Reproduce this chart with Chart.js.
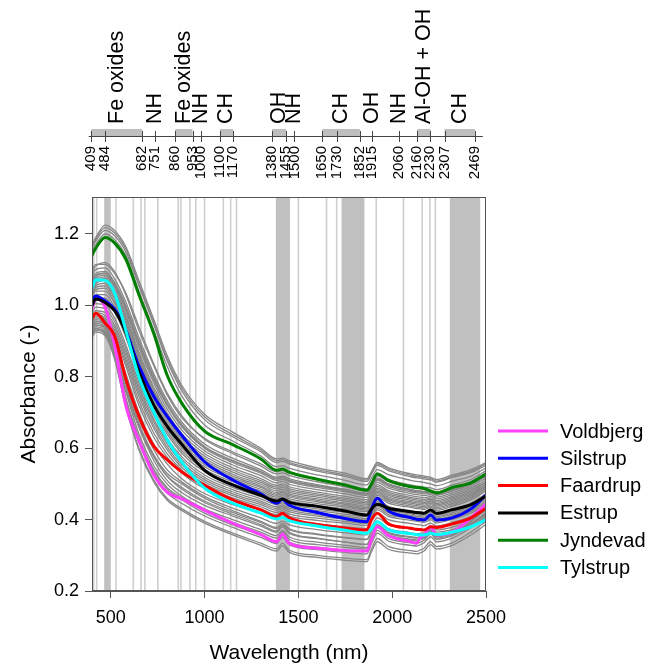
<!DOCTYPE html>
<html><head><meta charset="utf-8">
<script src="https://cdn.jsdelivr.net/npm/chart.js@4/dist/chart.umd.min.js"></script>
<style>html,body{margin:0;padding:0;background:#fff}#wrap{width:651px;height:667px}</style>
</head><body><div id="wrap"><canvas id="c" width="651" height="667"></canvas></div>
<script>
// ---------- data ----------
const WAVELENGTHS = [400,420,470,520,580,650,730,800,880,1000,1150,1300,1385,1415,1450,1600,1750,1865,1890,1920,1980,2100,2130,2150,2170,2205,2235,2320,2420,2500];

const SITE_NAMES  = ['Voldbjerg','Silstrup','Faardrup','Estrup','Jyndevad','Tylstrup'];
const SITE_COLORS = ['#ff40ff','#0000ff','#ff0000','#000000','#008000','#00ffff'];

const VOLDBJERG = [0.99,1.02,0.995,0.89,0.72,0.622,0.525,0.477,0.458,0.426,0.39,0.358,0.338,0.36,0.334,0.32,0.313,0.312,0.345,0.38,0.355,0.338,0.334,0.35,0.356,0.38,0.357,0.365,0.405,0.444];
const SILSTRUP  = [1.015,1.026,1.012,0.99,0.93,0.83,0.745,0.69,0.635,0.562,0.511,0.472,0.446,0.456,0.441,0.42,0.403,0.394,0.43,0.46,0.425,0.405,0.401,0.4,0.399,0.413,0.399,0.405,0.43,0.469];
const FAARDRUP  = [0.964,0.978,0.95,0.915,0.795,0.69,0.605,0.568,0.533,0.496,0.455,0.427,0.408,0.418,0.405,0.386,0.376,0.371,0.40,0.418,0.388,0.376,0.373,0.372,0.371,0.38,0.378,0.388,0.405,0.432];
const ESTRUP    = [1.0,1.018,1.008,0.985,0.925,0.815,0.72,0.662,0.61,0.538,0.497,0.468,0.452,0.458,0.449,0.437,0.424,0.413,0.43,0.443,0.432,0.422,0.42,0.419,0.418,0.427,0.418,0.428,0.442,0.466];
const JYNDEVAD  = [1.14,1.16,1.19,1.175,1.13,1.03,0.92,0.805,0.725,0.648,0.61,0.57,0.538,0.542,0.533,0.513,0.497,0.482,0.50,0.528,0.51,0.492,0.49,0.489,0.487,0.48,0.475,0.49,0.503,0.528];
const TYLSTRUP  = [1.048,1.072,1.07,1.035,0.93,0.80,0.70,0.625,0.56,0.488,0.446,0.418,0.402,0.406,0.397,0.382,0.37,0.362,0.375,0.394,0.372,0.36,0.358,0.357,0.357,0.362,0.358,0.365,0.38,0.40];

// all other soil spectra (grey)
const OTHER_SPECTRA = [
 [1.17,1.19,1.225,1.21,1.165,1.07,0.96,0.86,0.775,0.695,0.645,0.6,0.57,0.572,0.565,0.545,0.53,0.515,0.535,0.56,0.545,0.528,0.525,0.524,0.522,0.518,0.512,0.525,0.54,0.56],
 [1.165,1.185,1.218,1.203,1.158,1.062,0.952,0.852,0.768,0.688,0.638,0.595,0.565,0.568,0.56,0.54,0.525,0.511,0.531,0.556,0.541,0.524,0.521,0.52,0.518,0.515,0.508,0.521,0.536,0.556],
 [1.16,1.18,1.21,1.195,1.15,1.055,0.945,0.845,0.76,0.68,0.632,0.59,0.56,0.563,0.556,0.536,0.521,0.507,0.527,0.552,0.537,0.52,0.517,0.516,0.514,0.511,0.505,0.518,0.532,0.552],
 [1.15,1.17,1.2,1.185,1.14,1.04,0.93,0.83,0.745,0.665,0.62,0.578,0.548,0.551,0.544,0.525,0.51,0.497,0.516,0.54,0.526,0.51,0.507,0.506,0.504,0.5,0.495,0.508,0.522,0.545],
 [1.1,1.115,1.115,1.09,1.035,0.94,0.835,0.755,0.69,0.625,0.585,0.55,0.528,0.531,0.524,0.506,0.492,0.48,0.5,0.522,0.506,0.49,0.487,0.486,0.484,0.482,0.477,0.49,0.507,0.53],
 [1.09,1.11,1.12,1.095,1.03,0.93,0.83,0.75,0.685,0.628,0.59,0.556,0.534,0.537,0.53,0.512,0.498,0.486,0.506,0.53,0.513,0.497,0.494,0.493,0.491,0.489,0.484,0.497,0.513,0.537],
 [1.08,1.1,1.105,1.075,1.01,0.91,0.808,0.735,0.672,0.612,0.572,0.54,0.519,0.522,0.515,0.498,0.485,0.474,0.494,0.516,0.5,0.484,0.481,0.48,0.478,0.479,0.473,0.486,0.503,0.526],
 [1.07,1.09,1.095,1.065,1.0,0.9,0.8,0.728,0.665,0.605,0.566,0.535,0.515,0.518,0.51,0.494,0.481,0.471,0.491,0.512,0.497,0.481,0.478,0.477,0.475,0.477,0.47,0.483,0.5,0.523],
 [1.065,1.085,1.09,1.06,0.995,0.895,0.795,0.722,0.66,0.602,0.564,0.534,0.514,0.518,0.51,0.495,0.483,0.473,0.493,0.515,0.499,0.484,0.481,0.48,0.478,0.48,0.474,0.486,0.504,0.527],
 [1.06,1.08,1.09,1.06,0.99,0.89,0.79,0.72,0.66,0.6,0.56,0.53,0.51,0.513,0.506,0.49,0.478,0.468,0.488,0.51,0.493,0.478,0.475,0.474,0.472,0.474,0.468,0.48,0.498,0.52],
 [1.055,1.075,1.085,1.055,0.985,0.882,0.782,0.71,0.65,0.593,0.553,0.523,0.503,0.507,0.499,0.484,0.472,0.462,0.482,0.504,0.488,0.473,0.47,0.469,0.467,0.47,0.463,0.475,0.493,0.516],
 [1.05,1.07,1.08,1.05,0.975,0.87,0.77,0.7,0.64,0.585,0.545,0.515,0.496,0.5,0.492,0.477,0.465,0.456,0.476,0.498,0.481,0.467,0.464,0.463,0.461,0.465,0.458,0.47,0.488,0.51],
 [1.045,1.065,1.075,1.042,0.968,0.862,0.762,0.692,0.632,0.578,0.539,0.509,0.491,0.495,0.487,0.472,0.46,0.451,0.471,0.493,0.476,0.462,0.459,0.458,0.456,0.461,0.453,0.465,0.483,0.506],
 [1.04,1.06,1.07,1.035,0.96,0.855,0.755,0.685,0.625,0.572,0.533,0.504,0.486,0.49,0.482,0.468,0.456,0.447,0.467,0.488,0.472,0.458,0.455,0.454,0.452,0.457,0.449,0.461,0.479,0.503],
 [1.035,1.055,1.062,1.028,0.952,0.848,0.748,0.678,0.618,0.566,0.527,0.499,0.481,0.485,0.477,0.463,0.452,0.443,0.463,0.484,0.468,0.454,0.451,0.45,0.448,0.453,0.445,0.457,0.475,0.499],
 [1.03,1.05,1.055,1.02,0.945,0.84,0.74,0.67,0.612,0.56,0.522,0.494,0.476,0.48,0.472,0.458,0.447,0.438,0.458,0.48,0.463,0.45,0.447,0.446,0.444,0.45,0.441,0.453,0.471,0.495],
 [1.025,1.045,1.048,1.012,0.938,0.832,0.732,0.662,0.606,0.554,0.517,0.49,0.472,0.476,0.468,0.454,0.443,0.434,0.454,0.476,0.459,0.446,0.443,0.442,0.44,0.446,0.438,0.449,0.467,0.492],
 [1.02,1.04,1.04,1.005,0.93,0.825,0.725,0.655,0.6,0.548,0.512,0.485,0.468,0.472,0.464,0.45,0.439,0.43,0.45,0.472,0.455,0.442,0.439,0.438,0.436,0.442,0.434,0.445,0.463,0.488],
 [1.01,1.03,1.03,0.995,0.92,0.815,0.715,0.648,0.592,0.541,0.506,0.48,0.463,0.467,0.459,0.445,0.435,0.426,0.446,0.468,0.451,0.438,0.435,0.434,0.432,0.438,0.43,0.441,0.459,0.484],
 [1.0,1.02,1.02,0.985,0.91,0.805,0.705,0.64,0.585,0.534,0.5,0.475,0.458,0.462,0.454,0.44,0.43,0.422,0.442,0.463,0.446,0.434,0.431,0.43,0.428,0.434,0.426,0.437,0.455,0.48],
 [0.99,1.005,1.0,0.965,0.89,0.785,0.69,0.628,0.575,0.525,0.49,0.464,0.448,0.453,0.444,0.43,0.42,0.413,0.433,0.455,0.437,0.425,0.422,0.421,0.419,0.425,0.418,0.428,0.446,0.472],
 [0.98,0.995,0.99,0.955,0.88,0.775,0.68,0.62,0.568,0.518,0.484,0.458,0.442,0.447,0.438,0.425,0.415,0.408,0.428,0.45,0.432,0.42,0.417,0.416,0.414,0.42,0.413,0.423,0.441,0.467],
 [0.97,0.985,0.98,0.945,0.87,0.765,0.672,0.612,0.56,0.512,0.478,0.452,0.436,0.441,0.432,0.419,0.41,0.403,0.423,0.445,0.427,0.416,0.413,0.412,0.41,0.416,0.409,0.419,0.437,0.462],
 [0.965,0.98,0.972,0.938,0.86,0.755,0.663,0.604,0.553,0.506,0.472,0.447,0.431,0.436,0.427,0.414,0.405,0.399,0.419,0.441,0.423,0.412,0.409,0.408,0.406,0.412,0.405,0.415,0.432,0.457],
 [0.96,0.975,0.965,0.93,0.85,0.745,0.655,0.596,0.546,0.5,0.467,0.442,0.426,0.431,0.422,0.41,0.401,0.395,0.415,0.437,0.419,0.408,0.405,0.404,0.402,0.408,0.401,0.411,0.428,0.452],
 [0.955,0.97,0.96,0.922,0.84,0.732,0.642,0.585,0.538,0.493,0.461,0.436,0.42,0.425,0.416,0.404,0.395,0.389,0.41,0.432,0.414,0.403,0.4,0.399,0.397,0.403,0.396,0.406,0.423,0.448],
 [0.95,0.965,0.955,0.915,0.83,0.72,0.63,0.575,0.53,0.487,0.455,0.43,0.414,0.42,0.41,0.398,0.39,0.384,0.405,0.427,0.409,0.398,0.395,0.394,0.392,0.399,0.391,0.401,0.418,0.443],
 [0.945,0.96,0.95,0.895,0.79,0.68,0.595,0.54,0.505,0.465,0.432,0.405,0.389,0.396,0.386,0.372,0.363,0.357,0.38,0.405,0.385,0.373,0.37,0.371,0.371,0.38,0.371,0.379,0.398,0.425],
 [0.94,0.955,0.945,0.9,0.81,0.7,0.61,0.556,0.514,0.473,0.442,0.418,0.403,0.409,0.399,0.388,0.38,0.375,0.396,0.418,0.4,0.389,0.386,0.385,0.383,0.39,0.382,0.392,0.409,0.434],
 [0.94,0.955,0.95,0.9,0.79,0.67,0.58,0.522,0.485,0.448,0.415,0.386,0.368,0.385,0.365,0.348,0.337,0.33,0.357,0.385,0.362,0.35,0.348,0.35,0.352,0.365,0.353,0.36,0.38,0.405],
 [0.935,0.95,0.94,0.88,0.77,0.66,0.575,0.522,0.49,0.452,0.42,0.392,0.375,0.384,0.372,0.358,0.349,0.344,0.368,0.393,0.372,0.36,0.357,0.358,0.359,0.37,0.36,0.368,0.388,0.417],
 [0.93,0.945,0.94,0.89,0.78,0.66,0.565,0.51,0.475,0.44,0.41,0.382,0.365,0.38,0.362,0.347,0.337,0.331,0.358,0.386,0.364,0.352,0.35,0.352,0.353,0.366,0.355,0.363,0.385,0.415],
 [0.93,0.945,0.935,0.87,0.74,0.63,0.54,0.49,0.46,0.425,0.392,0.365,0.348,0.366,0.345,0.33,0.322,0.318,0.348,0.378,0.355,0.342,0.34,0.345,0.35,0.37,0.352,0.362,0.395,0.43],
 [0.925,0.94,0.93,0.88,0.76,0.64,0.55,0.5,0.465,0.43,0.4,0.372,0.355,0.37,0.352,0.337,0.328,0.322,0.35,0.378,0.357,0.345,0.343,0.345,0.347,0.362,0.348,0.357,0.38,0.41],
 [0.92,0.935,0.92,0.86,0.76,0.66,0.58,0.53,0.5,0.46,0.425,0.395,0.378,0.39,0.375,0.36,0.35,0.345,0.37,0.395,0.375,0.363,0.36,0.362,0.363,0.375,0.365,0.372,0.39,0.42],
 [0.92,0.935,0.925,0.865,0.74,0.625,0.535,0.485,0.455,0.418,0.385,0.357,0.34,0.357,0.337,0.323,0.315,0.311,0.34,0.37,0.347,0.335,0.333,0.337,0.342,0.36,0.345,0.355,0.386,0.42],
 [0.92,0.935,0.925,0.86,0.73,0.615,0.525,0.475,0.445,0.41,0.378,0.35,0.333,0.35,0.33,0.316,0.308,0.304,0.333,0.362,0.34,0.328,0.326,0.33,0.335,0.352,0.338,0.348,0.378,0.41],
 [0.915,0.93,0.92,0.855,0.72,0.6,0.51,0.46,0.43,0.395,0.362,0.334,0.318,0.334,0.315,0.3,0.292,0.288,0.318,0.347,0.325,0.313,0.311,0.315,0.32,0.338,0.325,0.335,0.365,0.395],
 [0.91,0.925,0.915,0.85,0.715,0.595,0.505,0.455,0.425,0.39,0.357,0.328,0.312,0.327,0.309,0.294,0.286,0.282,0.31,0.338,0.317,0.306,0.304,0.307,0.312,0.33,0.318,0.328,0.357,0.387]
];

const X_TICKS = [500,1000,1500,2000,2500];
const Y_TICKS = [0.2,0.4,0.6,0.8,1.0,1.2];

// shaded bands and marker lines inside the plot (wavelengths, nm)
const BAND_RANGES  = [[465,500],[1380,1455],[1730,1852],[2307,2469]];
const MARKER_LINES = [409,425,528,620,661,682,751,860,874,922,953,1000,1100,1139,1170,1500,1650,1704,1915,2060,2160,2201,2230];

// top annotation axis
const TOP_GROUP_START  = [409,751,860,1000,1100,1380,1500,1650,1915,2060,2160,2307];
const TOP_GROUP_END    = [682,751,953,1000,1170,1455,1500,1852,1915,2060,2230,2469];
const TOP_GROUP_LABELS = ['Fe oxides','NH','Fe oxides','NH','CH','OH','NH','CH','OH','NH','Al-OH + OH','CH'];
const TOP_TICK_NUMBERS = [409,484,682,751,860,953,1000,1100,1170,1380,1455,1500,1650,1730,1852,1915,2060,2160,2230,2307,2469];

// ---------- build ----------
const FONT = "'Liberation Sans', Arial, Helvetica, sans-serif";
const toPts = arr => WAVELENGTHS.map((w,i)=>({x:w,y:arr[i]})).filter(p=>p.y!==undefined);

const siteSeries = [VOLDBJERG,SILSTRUP,FAARDRUP,ESTRUP,JYNDEVAD,TYLSTRUP];
const datasets = [];
siteSeries.forEach((arr,i)=>{
  datasets.push({label:SITE_NAMES[i], data:toPts(arr), borderColor:SITE_COLORS[i], borderWidth:3,
    order: SITE_NAMES.length - i, pointRadius:0, cubicInterpolationMode:'monotone', fill:false});
});
OTHER_SPECTRA.forEach((arr,i)=>{
  datasets.push({label:'_g'+i, data:toPts(arr), borderColor:'rgb(135,135,135)', borderWidth:1.3,
    order: 20, pointRadius:0, cubicInterpolationMode:'monotone', fill:false});
});

const decor = {
  id:'decor',
  beforeDatasetsDraw(chart){
    const {ctx, chartArea:a, scales:{x}} = chart;
    ctx.save();
    ctx.beginPath(); ctx.rect(a.left,a.top,a.right-a.left,a.bottom-a.top); ctx.clip();
    ctx.strokeStyle='#cfcfcf'; ctx.lineWidth=1.6;
    MARKER_LINES.forEach(w=>{const px=x.getPixelForValue(w); ctx.beginPath(); ctx.moveTo(px,a.top); ctx.lineTo(px,a.bottom); ctx.stroke();});
    ctx.fillStyle='#c0c0c0';
    BAND_RANGES.forEach(([s,e])=>{const x1=x.getPixelForValue(s), x2=x.getPixelForValue(e); ctx.fillRect(x1,a.top,x2-x1,a.bottom-a.top);});
    ctx.restore();
  },
  afterDraw(chart){
    const {ctx, chartArea:a} = chart;
    const t = chart.scales.xTop;
    ctx.save();
    // plot box
    ctx.strokeStyle='#555'; ctx.lineWidth=1;
    ctx.strokeRect(Math.round(a.left)+0.5, Math.round(a.top)+0.5, Math.round(a.right-a.left)-1, Math.round(a.bottom-a.top)-1);

    // top annotation axis
    ctx.fillStyle='#bebebe';
    TOP_GROUP_START.forEach((s,i)=>{const e=TOP_GROUP_END[i]; if(e>s){const x1=t.getPixelForValue(s),x2=t.getPixelForValue(e); ctx.fillRect(x1,129,x2-x1,8);}});
    ctx.strokeStyle='#444'; ctx.lineWidth=1;
    ctx.beginPath(); ctx.moveTo(t.getPixelForValue(395),136.5); ctx.lineTo(t.getPixelForValue(2512),136.5); ctx.stroke();
    TOP_TICK_NUMBERS.forEach(w=>{const px=Math.round(t.getPixelForValue(w))+0.5; ctx.beginPath(); ctx.moveTo(px,131); ctx.lineTo(px,142); ctx.stroke();});
    ctx.fillStyle='#000';
    ctx.font='15px '+FONT; ctx.textAlign='right'; ctx.textBaseline='middle';
    TOP_TICK_NUMBERS.forEach(w=>{ctx.save(); ctx.translate(t.getPixelForValue(w),146); ctx.rotate(-Math.PI/2); ctx.fillText(String(w),0,0); ctx.restore();});
    ctx.font='21.5px '+FONT; ctx.textAlign='left';
    TOP_GROUP_LABELS.forEach((lab,i)=>{const mid=(TOP_GROUP_START[i]+TOP_GROUP_END[i])/2; ctx.save(); ctx.translate(t.getPixelForValue(mid),124); ctx.rotate(-Math.PI/2); ctx.fillText(lab,0,0); ctx.restore();});

    // legend
    ctx.font='20px '+FONT; ctx.textAlign='left'; ctx.textBaseline='middle';
    SITE_NAMES.forEach((n,i)=>{
      const y = 431 + i*27.3;
      ctx.strokeStyle=SITE_COLORS[i]; ctx.lineWidth=3;
      ctx.beginPath(); ctx.moveTo(498,y); ctx.lineTo(548,y); ctx.stroke();
      ctx.fillStyle='#000'; ctx.fillText(n,560,y+1);
    });
    ctx.restore();
  }
};

new Chart(document.getElementById('c'), {
  type:'line',
  data:{datasets},
  options:{
    responsive:false, animation:false, devicePixelRatio:1,
    layout:{padding:{top:197,right:165,left:0,bottom:0}},
    plugins:{legend:{display:false}, tooltip:{enabled:false}},
    elements:{line:{borderJoinStyle:'round',borderCapStyle:'round'}},
    scales:{
      x:{type:'linear', position:'bottom', min:400, max:2500,
        afterFit:s=>{s.height=76;},
        afterBuildTicks:s=>{s.ticks=X_TICKS.map(v=>({value:v}));},
        ticks:{callback:v=>String(v), font:{family:FONT,size:18}, color:'#000', padding:9, maxRotation:0, autoSkip:false},
        grid:{drawOnChartArea:false, drawTicks:true, tickLength:7, color:'#555'},
        border:{display:true, color:'#555'},
        title:{display:true, text:'Wavelength (nm)', font:{family:FONT,size:21}, color:'#000', padding:{top:0,bottom:1}}
      },
      xTop:{type:'linear', position:'top', display:false, min:413, max:2529},
      y:{type:'linear', position:'left', min:0.2, max:1.3036,
        afterFit:s=>{s.width=92;},
        afterBuildTicks:s=>{s.ticks=Y_TICKS.map(v=>({value:v}));},
        ticks:{callback:v=>Number(v).toFixed(1), font:{family:FONT,size:18}, color:'#000', padding:6, autoSkip:false},
        grid:{drawOnChartArea:false, drawTicks:true, tickLength:7, color:'#555'},
        border:{display:true, color:'#555'},
        title:{display:true, text:'Absorbance (-)', font:{family:FONT,size:21}, color:'#000', padding:{top:17,bottom:0}}
      }
    }
  },
  plugins:[decor]
});
</script>
</body></html>
